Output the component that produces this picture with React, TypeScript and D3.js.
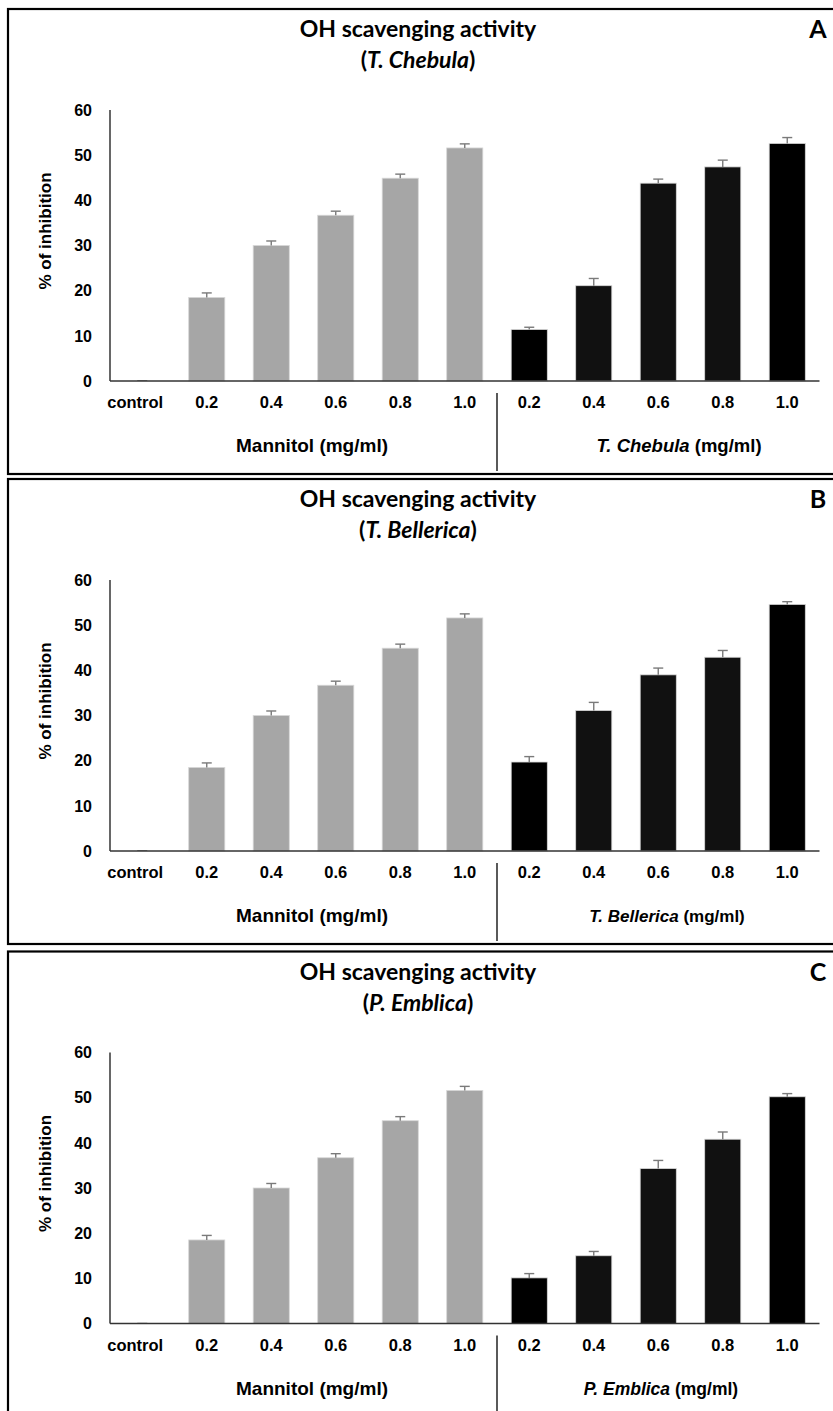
import React from "react";
import * as d3 from "d3";

// ---- data ----
const mannitolDoses = ["control", "0.2", "0.4", "0.6", "0.8", "1.0"];
const extractDoses = ["0.2", "0.4", "0.6", "0.8", "1.0"];
const mannitolValues = [0.15, 18.5, 30.0, 36.7, 44.9, 51.6];
const mannitolErrors = [0.2, 1.0, 1.0, 0.9, 0.9, 0.9];
const chebulaValues = [11.4, 21.1, 43.8, 47.4, 52.6];
const chebulaErrors = [0.5, 1.6, 0.9, 1.5, 1.3];
const bellericaValues = [19.7, 31.1, 39.0, 42.9, 54.6];
const bellericaErrors = [1.2, 1.8, 1.5, 1.5, 0.6];
const emblicaValues = [10.1, 15.0, 34.3, 40.8, 50.2];
const emblicaErrors = [0.95, 0.95, 1.8, 1.6, 0.7];
const yTicks = [0, 10, 20, 30, 40, 50, 60];
const panelLetters = ["A", "B", "C"];
const speciesNames = ["T. Chebula", "T. Bellerica", "P. Emblica"];

const panels = [
  { letter: panelLetters[0], species: speciesNames[0], values: chebulaValues, errors: chebulaErrors, top: 0, speciesX: 679, speciesSize: 18.5 },
  { letter: panelLetters[1], species: speciesNames[1], values: bellericaValues, errors: bellericaErrors, top: 470, speciesX: 667, speciesSize: 17 },
  { letter: panelLetters[2], species: speciesNames[2], values: emblicaValues, errors: emblicaErrors, top: 942.5, speciesX: 661, speciesSize: 17.5 },
];

const W = 833;
const H = 1411;
const extractFill = ["#000", "#111", "#111", "#111", "#000"];

function Panel({ p }: { p: any }) {
  const T = p.top;
  const keys = [...mannitolDoses.map((d, i) => "m" + i), ...extractDoses.map((d, i) => "e" + i)];
  const labels = [...mannitolDoses, ...extractDoses];
  const vals = [...mannitolValues, ...p.values];
  const errs = [...mannitolErrors, ...p.errors];
  const x = d3.scaleBand<string>().domain(keys).range([110, 819.5]).paddingInner(0.44).paddingOuter(0.22);
  const y = d3.scaleLinear().domain([0, 60]).range([381 + T, 110 + T]);
  const bw = x.bandwidth();
  const divX = (x("m5")! + bw + x("e0")!) / 2;
  const tickFont = "'Liberation Sans', Arial, sans-serif";
  return (
    <g>
      <rect x={8} y={9 + T} width={840} height={465} fill="none" stroke="#000" strokeWidth={2.2} />
      <text x={418} y={37 + T} textAnchor="middle" fontFamily="Lato, sans-serif" fontWeight="bold" fontSize={23}>
        OH scavenging activity
      </text>
      <text x={418} y={68 + T} textAnchor="middle" fontFamily="Lato, sans-serif" fontWeight="bold" fontSize={23}>
        (<tspan fontStyle="italic">{p.species}</tspan>)
      </text>
      <text x={818} y={38 + T} textAnchor="middle" fontFamily="Lato, sans-serif" fontWeight="bold" fontSize={25}>
        {p.letter}
      </text>
      {/* y axis */}
      <line x1={110} x2={110} y1={y(60)} y2={y(0)} stroke="#000" strokeWidth={1.2} />
      {yTicks.map((t) => (
        <text key={t} x={92} y={y(t)} dy="0.36em" textAnchor="end" fontFamily={tickFont} fontWeight="bold" fontSize={16}>
          {t}
        </text>
      ))}
      <text
        transform={`translate(45,${231 + T}) rotate(-90)`}
        textAnchor="middle"
        dy="0.35em"
        fontFamily={tickFont}
        fontWeight="bold"
        fontSize={17}
      >
        % of inhibition
      </text>
      {/* bars */}
      {keys.map((k, i) => {
        const isM = i < mannitolDoses.length;
        const fill = isM ? (i === 0 ? "#555" : "#a6a6a6") : extractFill[i - mannitolDoses.length];
        const cx = x(k)! + bw / 2;
        const v = vals[i];
        const e = errs[i];
        const bx = i === 0 ? cx - 5 : x(k)!;
        const bwi = i === 0 ? 10 : bw;
        return (
          <g key={k}>
            <rect x={bx} y={y(v)} width={bwi} height={y(0) - y(v)} fill={fill} stroke={i === 0 ? "none" : "#d8d8d8"} strokeWidth={0.8} />
            {i > 0 && (
              <g stroke="#7a7a7a" strokeWidth={1.4}>
                <line x1={cx} x2={cx} y1={y(v)} y2={y(v + e)} />
                <line x1={cx - 5} x2={cx + 5} y1={y(v + e)} y2={y(v + e)} />
              </g>
            )}
          </g>
        );
      })}
      {/* x axis */}
      <line x1={110} x2={819.5} y1={y(0)} y2={y(0)} stroke="#333" strokeWidth={1.6} />
      {keys.map((k, i) => (
        <text key={k} x={x(k)! + bw / 2 - (i === 0 ? 7 : 0)} y={408 + T} textAnchor="middle" fontFamily={tickFont} fontWeight="bold" fontSize={16.5}>
          {labels[i]}
        </text>
      ))}
      <line x1={divX} x2={divX} y1={393 + T} y2={471 + T} stroke="#000" strokeWidth={1.3} />
      <text x={312} y={452 + T} textAnchor="middle" fontFamily={tickFont} fontWeight="bold" fontSize={19}>
        Mannitol (mg/ml)
      </text>
      <text x={p.speciesX} y={452 + T} textAnchor="middle" fontFamily={tickFont} fontWeight="bold" fontSize={p.speciesSize}>
        <tspan fontStyle="italic">{p.species}</tspan> (mg/ml)
      </text>
    </g>
  );
}

export default function App() {
  return (
    <svg width={W} height={H} style={{ position: "absolute", left: 0, top: 0, background: "#fff" }}>
      <rect x={0} y={0} width={W} height={H} fill="#fff" />
      {panels.map((p) => (
        <Panel key={p.letter} p={p} />
      ))}
    </svg>
  );
}
